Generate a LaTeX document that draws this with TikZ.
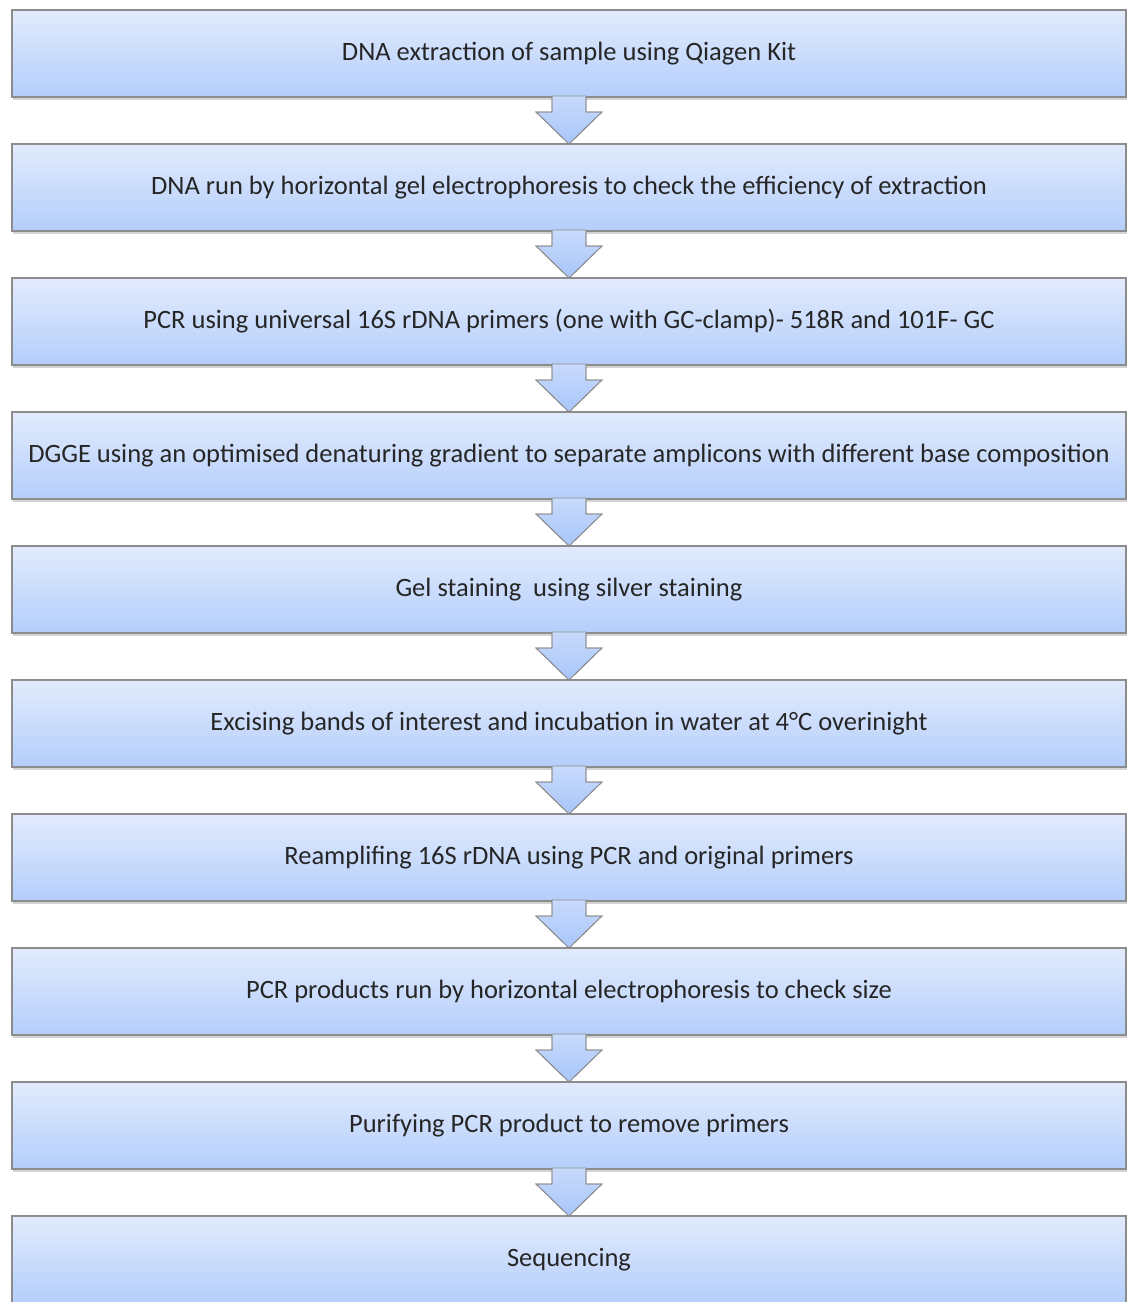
\documentclass[tikz,border=0pt]{standalone}
\usepackage{fontspec}
\setmainfont{Carlito}
\usetikzlibrary{positioning,shadows,calc}

\definecolor{boxtop}{RGB}{226,235,253}
\definecolor{boxbot}{RGB}{180,206,251}
\definecolor{boxline}{RGB}{140,140,140}
\definecolor{arrtop}{RGB}{200,218,252}
\definecolor{arrbot}{RGB}{168,198,250}

\tikzset{
	stepbox/.style={draw=boxline, line width=1.3pt, top color=boxtop, bottom color=boxbot,
		minimum width=1114pt, minimum height=87pt, inner sep=0pt, outer sep=0pt,
		text=black!85, font=\fontsize{26.5}{31}\selectfont,
		drop shadow={shadow xshift=1pt, shadow yshift=-3pt, opacity=0.35}},
	flowarrow/.style={draw=boxline, line width=0.8pt, top color=arrtop, bottom color=arrbot, line join=miter}
}

\begin{document}
\begin{tikzpicture}[x=1pt, y=1pt]
	\useasboundingbox (0,0) rectangle (1127,-1302);
	\node[stepbox] (s1) at (569,-53.5) {DNA extraction of sample using Qiagen Kit};
	\node[stepbox, below=47pt of s1] (s2) {DNA run by horizontal gel electrophoresis to check the efficiency of extraction};
	\node[stepbox, below=47pt of s2] (s3) {PCR using universal 16S rDNA primers (one with GC-clamp)- 518R and 101F- GC};
	\node[stepbox, below=47pt of s3] (s4) {DGGE using an optimised denaturing gradient to separate amplicons with different base composition};
	\node[stepbox, below=47pt of s4] (s5) {Gel staining\ \ using silver staining};
	\node[stepbox, below=47pt of s5] (s6) {Excising bands of interest and incubation in water at 4°C overinight};
	\node[stepbox, below=47pt of s6] (s7) {Reamplifing 16S rDNA using PCR and original primers};
	\node[stepbox, below=47pt of s7] (s8) {PCR products run by horizontal electrophoresis to check size};
	\node[stepbox, below=47pt of s8] (s9) {Purifying PCR product to remove primers};
	\node[stepbox, below=47pt of s9] (s10) {Sequencing};
	% block arrows between the steps
	\foreach \a/\b in {s1/s2,s2/s3,s3/s4,s4/s5,s5/s6,s6/s7,s7/s8,s8/s9,s9/s10}{
		\path[flowarrow] ($(\a.south)+(-17,1)$) -- ($(\a.south)+(-17,-15)$) -- ($(\a.south)+(-33,-15)$)
			-- (\b.north) -- ($(\a.south)+(33,-15)$) -- ($(\a.south)+(17,-15)$) -- ($(\a.south)+(17,1)$) -- cycle;
		\draw[boxline, line width=0.8pt] ($(\a.south)+(-17,0)$) -- ($(\a.south)+(-17,-15)$) -- ($(\a.south)+(-33,-15)$)
			-- (\b.north) -- ($(\a.south)+(33,-15)$) -- ($(\a.south)+(17,-15)$) -- ($(\a.south)+(17,0)$);
	}
\end{tikzpicture}
\end{document}
